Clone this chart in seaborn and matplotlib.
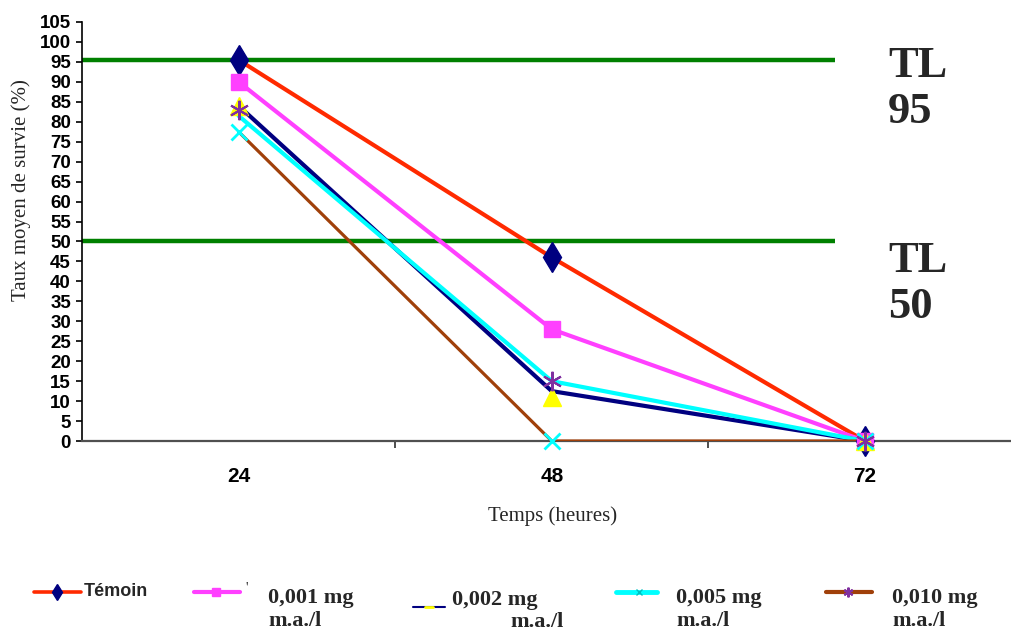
import matplotlib
matplotlib.use("Agg")
import matplotlib.pyplot as plt
import seaborn as sns
import numpy as np
import pandas as pd
from matplotlib.lines import Line2D

# ---- data ----
categories = ["24", "48", "72"]
temoin = [95.5, 46, 0]
s001 = [90, 28, 0]
s002_line = [84, 12.5, 0]
s002_marks = [84, 11, 0]
s005_line = [81.5, 15, 0]
s005_marks = [77.5, 0, 0]
s010_line = [77.5, 0, 0]
s010_marks = [83, 15, 0]
tl_levels = [95.5, 50]
tl_labels = [("TL", "95"), ("TL", "50")]
yticks = list(range(0, 110, 5))
legend_labels = ["Témoin", "0,001 mg", "0,002 mg", "0,005 mg", "0,010 mg"]
legend_sub = "m.a./l"

sns.set_theme(style="white")
plt.rcParams['font.family'] = ['Liberation Sans', 'DejaVu Sans']

W, H = 1011, 634
fig = plt.figure(figsize=(W / 100, H / 100), dpi=100)
ax = fig.add_axes([82 / W, 1 - 441 / H, (W - 82) / W, (441 - 22) / H])

xpos = np.arange(len(categories))

# threshold lines
tl_end = (835 - 239) / 313
for lvl in tl_levels:
    ax.hlines(lvl, -0.5, tl_end, color="#008000", lw=3.2, zorder=2)

series = [
    (temoin, temoin, "#FF2A00", 3.0, "#000080", "d", 15, 1.0),
    (s001, s001, "#FF40FF", 3.0, "#FF40FF", "s", 11, 1.0),
    (s002_line, s002_marks, "#000080", 3.0, "#FFFF00", "^", 13, 1.0),
    (s005_line, s005_marks, "#00FFFF", 3.0, "#00FFFF", "x", 12, 2.0),
    (s010_line, s010_marks, "#A0400A", 2.3, "#8030A0", (6, 2, 0), 14, 1.5),
]
for i, (lv, mv, lc, lw, mc, mk, ms, mew) in enumerate(series):
    df = pd.DataFrame({"x": xpos, "y": lv})
    sns.lineplot(data=df, x="x", y="y", ax=ax, color=lc, lw=lw, zorder=3 + i)
for i, (lv, mv, lc, lw, mc, mk, ms, mew) in enumerate(series):
    ax.plot(xpos, mv, ls="none", marker=mk, ms=ms, color=mc, mec=mc,
            mew=mew, zorder=10 + i, clip_on=False)

ax.set_xlim(-0.5, (W - 239) / 313)
ax.set_ylim(0, 105)
ax.set_yticks(yticks)
ax.set_yticklabels([str(v) for v in yticks], fontsize=13.5, fontweight="bold")
ax.set_xticks(xpos)
ax.set_xticklabels(categories, fontsize=15, fontweight="bold")
ax.set_xticks([0.5, 1.5], minor=True)
ax.tick_params(axis="x", which="major", length=0, pad=19, colors="black")
ax.tick_params(axis="x", which="minor", length=5, width=1.3, direction="out",
               color="#404040", bottom=True)
ax.tick_params(axis="y", which="major", length=4, width=1.2, direction="out",
               pad=4, left=True, colors="black")
ax.set_xlabel("")
ax.set_ylabel("")
for s in ["top", "right"]:
    ax.spines[s].set_visible(False)
ax.spines["left"].set_color("black")
ax.spines["left"].set_linewidth(1.2)
ax.spines["bottom"].set_color("#505050")
ax.spines["bottom"].set_linewidth(1.6)
ax.grid(False)

serif = ['Liberation Serif', 'DejaVu Serif']

def fy(y):
    return 1 - y / H

fig.text(21 / W, fy(190), "Taux moyen de survie (%)", rotation=90,
         ha="center", va="center", fontsize=15, family=serif)
fig.text(553 / W, fy(516), "Temps (heures)", ha="center", va="center",
         fontsize=15, family=serif)

# TL labels
tl_pos = [(77, 123), (272, 318)]
for (a, b), (y1, y2) in zip(tl_labels, tl_pos):
    fig.text(888 / W, fy(y1), a, ha="left", va="baseline", fontsize=32,
             fontweight="bold", family=serif)
    fig.text(888 / W, fy(y2), b, ha="left", va="baseline", fontsize=32,
             fontweight="bold", family=serif)

# legend (drawn in an overlay in pixel space)
lax = fig.add_axes([0, 0, 1, 1])
lax.set_xlim(0, W)
lax.set_ylim(H, 0)
lax.axis("off")
lax.patch.set_alpha(0)

lax.add_line(Line2D([34, 81], [592, 592], color="#FF2A00", lw=2.6))
lax.plot([57], [592], marker="d", ms=8, color="#000080", ls="none")
lax.text(84, 591, legend_labels[0], ha="left", va="center", fontsize=13,
         fontweight="bold", family=['Liberation Sans Narrow', 'Liberation Sans'])

lax.add_line(Line2D([194, 240], [592, 592], color="#FF40FF", lw=3))
lax.plot([216], [592], marker="s", ms=6, color="#FF40FF", ls="none")
lax.text(245, 588, "'", ha="left", va="center", fontsize=10, family=serif)

lax.add_line(Line2D([413, 445], [607, 607], color="#000080", lw=1.5))
lax.add_line(Line2D([425, 433], [607, 607], color="#FFFF00", lw=2))

lax.add_line(Line2D([616, 657], [592, 592], color="#00FFFF", lw=3.5))
lax.plot([639], [592], marker="x", ms=5, color="#00C0C0", ls="none", mew=1)

lax.add_line(Line2D([826, 872], [592, 592], color="#A0400A", lw=3))
lax.plot([848], [592], marker=(6, 2, 0), ms=7, color="#8030A0", ls="none", mew=1.5)

texts = [
    (268, 598, 268, 621, legend_labels[1]),
    (452, 600, 510, 622, legend_labels[2]),
    (676, 598, 676, 621, legend_labels[3]),
    (892, 598, 892, 621, legend_labels[4]),
]
for x1, y1, x2, y2, lab in texts:
    lax.text(x1, y1, lab, ha="left", va="center", fontsize=16,
             fontweight="bold", family=serif)
    lax.text(x2, y2, legend_sub, ha="left", va="center", fontsize=16,
             fontweight="bold", family=serif)

fig.savefig("out.png", dpi=100)
